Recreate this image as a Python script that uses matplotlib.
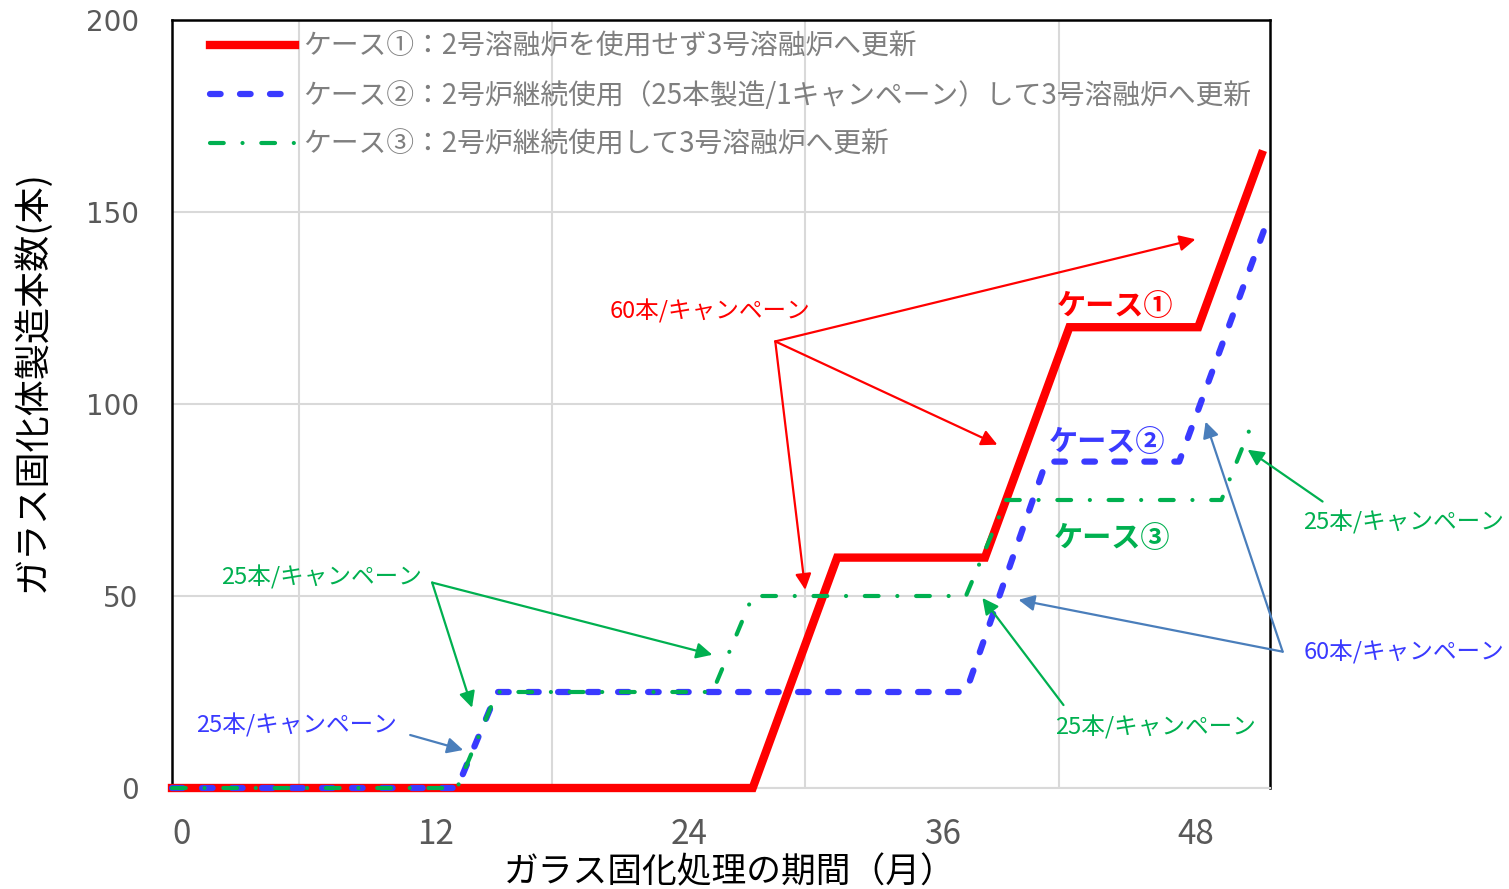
import matplotlib
matplotlib.use("Agg")
import matplotlib.pyplot as plt
import matplotlib.transforms as mtransforms

# ---- data ----
months_c1 = [0, 27.5, 31.5, 38.5, 42.5, 48.6, 51.6]
count_c1 = [0, 0, 60, 60, 120, 120, 165]
months_c2 = [0, 13.5, 15.4, 37.6, 41.4, 47.7, 51.7]
count_c2 = [0, 0, 25, 25, 85, 85, 145]
months_c3 = [0, 13.5, 15.4, 25.6, 27.5, 37.6, 39.5, 49.7, 51.3]
count_c3 = [0, 0, 25, 25, 50, 50, 75, 75, 97]

legend_labels = [
    "ケース①：2号溶融炉を使用せず3号溶融炉へ更新",
    "ケース②：2号炉継続使用（25本製造/1キャンペーン）して3号溶融炉へ更新",
    "ケース③：2号炉継続使用して3号溶融炉へ更新",
]
case_labels = ["ケース①", "ケース②", "ケース③"]
x_ticks = [0, 12, 24, 36, 48]
y_ticks = [0, 50, 100, 150, 200]
x_label = "ガラス固化処理の期間（月）"
y_label = "ガラス固化体製造本数(本)"
rate_60 = "60本/キャンペーン"
rate_25 = "25本/キャンペーン"

JP = ["Noto Sans CJK JP", "DejaVu Sans"]
RED = "#ff0000"
BLUE = "#3a3aff"
GREEN = "#00b050"
STEEL = "#4a7ebb"
GRAY = "#595959"

fig = plt.figure(figsize=(15.09, 8.89), dpi=100)
ax = fig.add_axes([172/1509, 1-788/889, (1270-172)/1509, (788-20)/889])

ax.set_xlim(0, 52)
ax.set_ylim(0, 200)

# grid
ax.set_xticks(range(6, 52, 6), minor=True)
ax.grid(True, which="minor", axis="x", color="#d9d9d9", lw=1.5)
ax.grid(True, which="major", axis="y", color="#d9d9d9", lw=1.5)
ax.set_axisbelow(True)

l1, = ax.plot(months_c1, count_c1, color=RED, lw=6, solid_joinstyle="miter",
              clip_on=False, zorder=3, label=legend_labels[0])
l2, = ax.plot(months_c2, count_c2, color=BLUE, lw=4.5, linestyle=(0, (1.7, 3.1)),
              dash_capstyle="round", clip_on=False, zorder=4, label=legend_labels[1])
l3, = ax.plot(months_c3, count_c3, color=GREEN, lw=3, linestyle=(0, (3.3, 4.5, 0.01, 4.5)),
              dash_capstyle="round", clip_on=False, zorder=5, label=legend_labels[2])

# ticks
ax.set_xticks(x_ticks)
ax.set_xticklabels([str(v) for v in x_ticks], family=JP, fontsize=24, color=GRAY)
ax.set_yticks(y_ticks)
ax.set_yticklabels([str(v) for v in y_ticks], family="DejaVu Sans", fontsize=20, color=GRAY)
ax.tick_params(axis="both", which="both", length=0)
ax.tick_params(axis="x", pad=21)
ax.tick_params(axis="y", pad=24)
off = mtransforms.ScaledTranslation(10/100, 0, fig.dpi_scale_trans)
for lab in ax.get_xticklabels():
    lab.set_transform(lab.get_transform() + off)

for s in ["left", "top", "right"]:
    ax.spines[s].set_color("black")
    ax.spines[s].set_linewidth(1.8)
ax.spines["bottom"].set_color("#d9d9d9")
ax.spines["bottom"].set_linewidth(1.5)

ax.set_xlabel(x_label, family=JP, fontsize=25, color="black", va="center")
ax.xaxis.set_label_coords(0.508, -0.110)
ax.set_ylabel(y_label, family=JP, fontsize=26, color="black")
ax.yaxis.set_label_coords(-0.11, 0.53)

leg = ax.legend(handles=[l1, l2, l3], loc="upper left", bbox_to_anchor=(0.0244, 0.999),
                frameon=False, prop={"family": JP, "size": 20}, handlelength=3.06,
                handletextpad=0.3, labelspacing=0.68, borderaxespad=0)
for t in leg.get_texts():
    t.set_color("#7f7f7f")

# case labels
ax.text(44.68, 125.4, case_labels[0], color=RED, family=JP, fontsize=21, fontweight="bold",
        ha="center", va="center", zorder=6)
ax.text(44.3, 90.0, case_labels[1], color=BLUE, family=JP, fontsize=21, fontweight="bold",
        ha="center", va="center", zorder=6)
ax.text(44.5, 65.2, case_labels[2], color=GREEN, family=JP, fontsize=21, fontweight="bold",
        ha="center", va="center", zorder=6)

def arrow(origin, target, color):
    ax.annotate("", xy=target, xytext=origin, annotation_clip=False, zorder=7,
                arrowprops=dict(arrowstyle="-|>", color=color, lw=1.6,
                                mutation_scale=24, shrinkA=0, shrinkB=0))

def label(x, y, s, color):
    ax.text(x, y, s, color=color, family=JP, fontsize=17, ha="center", va="center",
            clip_on=False, zorder=7)

# red 60
label(25.49, 124.1, rate_60, RED)
for tgt in [(48.47, 142.9), (39.09, 89.4), (29.99, 51.6)]:
    arrow((28.57, 116.3), tgt, RED)

# green left 25
label(7.06, 54.8, rate_25, GREEN)
for tgt in [(25.59, 34.7), (14.21, 20.9)]:
    arrow((12.32, 53.5), tgt, GREEN)

# blue left 25
label(5.92, 16.4, rate_25, BLUE)
arrow((11.28, 13.8), (13.79, 9.9), STEEL)

# green bottom 25
label(46.58, 15.9, rate_25, GREEN)
arrow((42.22, 21.6), (38.38, 49.5), GREEN)

# blue right 60
label(58.33, 35.2, rate_60, BLUE)
for tgt in [(40.09, 49.0), (48.95, 95.4)]:
    arrow((52.6, 35.5), tgt, STEEL)

# green right 25
label(58.33, 69.1, rate_25, GREEN)
arrow((54.49, 74.6), (50.94, 88.1), GREEN)

fig.savefig("out.png", dpi=100)
